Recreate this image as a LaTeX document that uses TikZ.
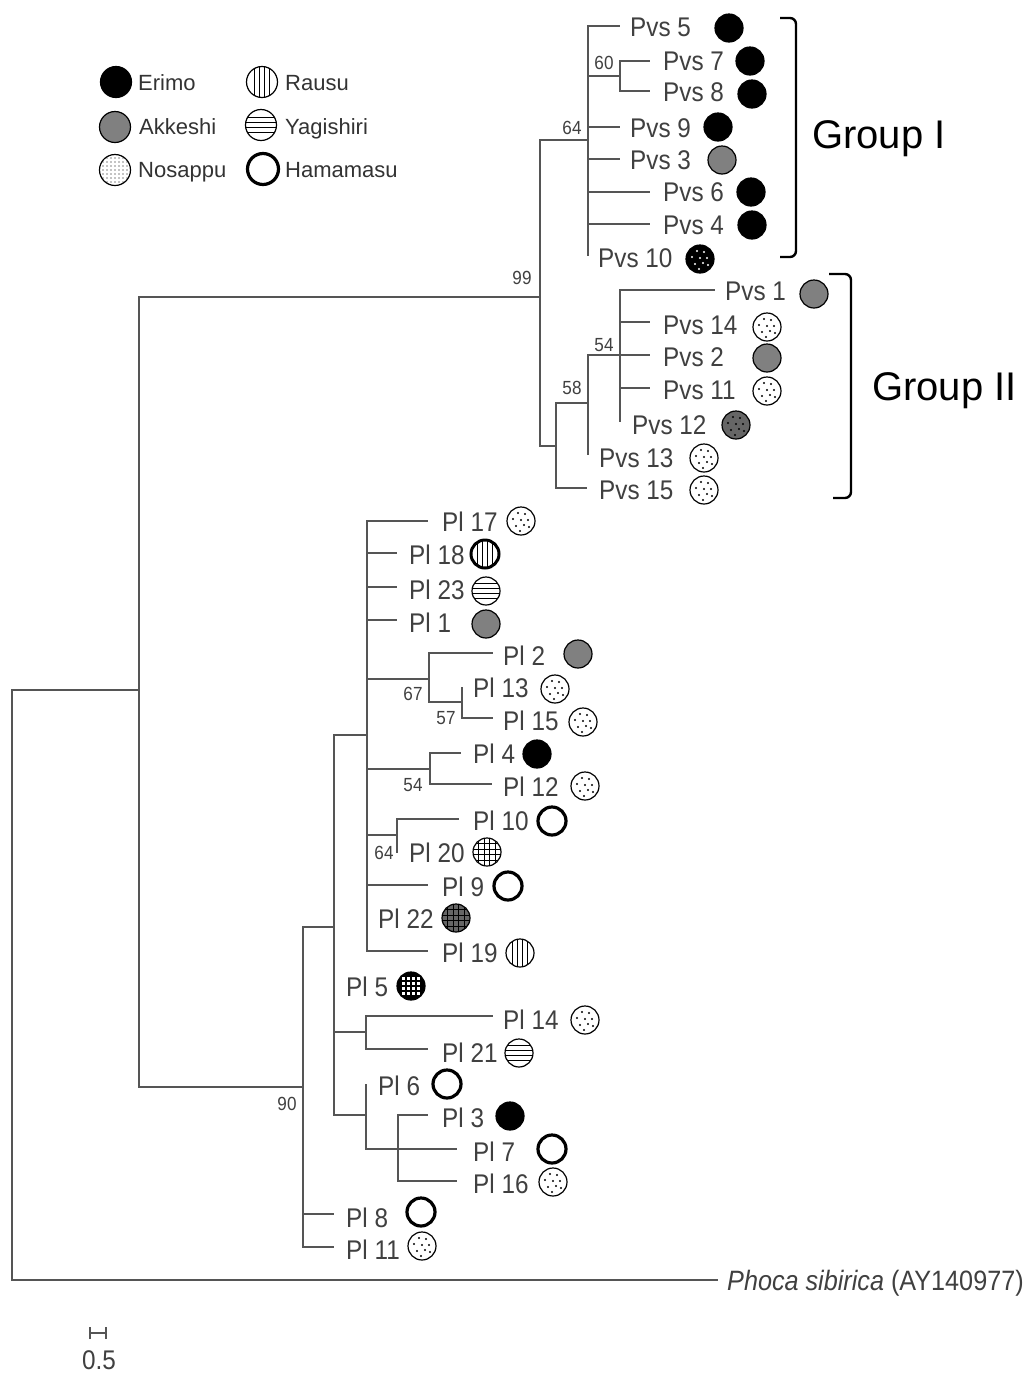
\documentclass[tikz,border=0pt]{standalone}
\usepackage{fontspec}
\setmainfont{Liberation Sans}
\newfontfamily\labf[FakeStretch=0.9]{Liberation Sans}
\definecolor{treeg}{HTML}{555555}
\definecolor{labg}{HTML}{404040}
\definecolor{akkg}{HTML}{808080}
\definecolor{dkg}{HTML}{666666}
\newcommand{\tipfont}{\labf\fontsize{27}{30}\selectfont}
\newcommand{\bsfont}{\labf\fontsize{19}{20}\selectfont}
\newcommand{\legfont}{\fontsize{22}{24}\selectfont}
\newcommand{\dotpat}[1]{\begin{scope}[shift={(path picture bounding box.center)}]\foreach \dx/\dy in {-3/-8,4/-7,-8/-2,0/-1,7/-1,-5/5,3/4,8/6,-1/10}{\fill[#1] (\dx,\dy) circle (1.1pt);}\end{scope}}
\newcommand{\densedots}{\begin{scope}[shift={(path picture bounding box.center)}]\foreach \dx in {-12,-8,...,12}{\foreach \dy in {-12,-8,...,12}{\fill[black] (\dx,\dy) circle (0.7pt);}}\end{scope}}
\newcommand{\vlines}{\begin{scope}[shift={(path picture bounding box.center)}]\foreach \dx in {-7.5,-2.5,2.5,7.5}{\draw[line width=0.9pt] (\dx,-16) -- (\dx,16);}\end{scope}}
\newcommand{\hlines}{\begin{scope}[shift={(path picture bounding box.center)}]\foreach \dy in {-7.5,-2.5,2.5,7.5}{\draw[line width=0.9pt] (-16,\dy) -- (16,\dy);}\end{scope}}
\newcommand{\gridpat}{\begin{scope}[shift={(path picture bounding box.center)}]\foreach \d in {-8.25,-2.75,2.75,8.25}{\draw[line width=0.9pt] (\d,-16) -- (\d,16); \draw[line width=0.9pt] (-16,\d) -- (16,\d);}\end{scope}}
\newcommand{\whitesq}{\begin{scope}[shift={(path picture bounding box.center)}]\foreach \dx in {-7.5,-2.5,2.5,7.5}{\foreach \dy in {-7.5,-2.5,2.5,7.5}{\fill[white] (\dx-1.7,\dy-1.7) rectangle (\dx+1.7,\dy+1.7);}}\end{scope}}
\tikzset{
  br/.style={draw=treeg, line width=2.5pt},
  leaf/.style={anchor=west, inner sep=0pt, font=\tipfont, text=labg},
  bs/.style={inner sep=0pt, font=\bsfont, text=labg},
  legtxt/.style={anchor=base west, inner sep=0pt, font=\legfont, text=black!80},
  sym/.style={circle, draw=black, line width=1.2pt, minimum size=28pt, inner sep=0pt, fill=white},
  big/.style={minimum size=31pt},
  erimo/.style={sym, fill=black},
  akk/.style={sym, fill=akkg},
  nosa/.style={sym, path picture={\dotpat{black}}},
  nosaL/.style={sym, path picture={\densedots}},
  wdots/.style={sym, fill=black, path picture={\dotpat{white}}},
  gdots/.style={sym, fill=dkg, path picture={\dotpat{black}}},
  rausu/.style={sym, path picture={\vlines}},
  yagi/.style={sym, path picture={\hlines}},
  hama/.style={sym, line width=3.2pt},
  gridw/.style={sym, path picture={\gridpat}},
  gridg/.style={sym, fill=dkg, path picture={\gridpat}},
  gridb/.style={sym, fill=black, path picture={\whitesq}},
  brk/.style={draw=black, line width=2.4pt, rounded corners=6pt},
  grp/.style={anchor=base west, inner sep=0pt, font=\fontsize{40}{44}\selectfont, text=black}
}
\begin{document}
\begin{tikzpicture}[x=1pt,y=-1pt]
\useasboundingbox[fill=white] (0,0) rectangle (1028,1374);

% ---------- legend ----------
\node[erimo,big] (lE) at (116,82) {};
\node[legtxt] (lEt) at (138,90) {Erimo};
\node[akk,big] (lA) at (115,127) {};
\node[legtxt] (lAt) at (139,134) {Akkeshi};
\node[nosaL,big] (lN) at (115,170) {};
\node[legtxt] (lNt) at (138,177) {Nosappu};
\node[rausu,big] (lR) at (262,82) {};
\node[legtxt] (lRt) at (285,90) {Rausu};
\node[yagi,big] (lY) at (261,125) {};
\node[legtxt] (lYt) at (285,134) {Yagishiri};
\node[hama,big] (lH) at (263,169) {};
\node[legtxt] (lHt) at (285,177) {Hamamasu};

% ---------- internal nodes ----------
\coordinate (R) at (12,985);
\coordinate (A) at (139,690);
\coordinate (N99) at (540,297);
\coordinate (N64) at (588,140);
\coordinate (N60) at (620,76);
\coordinate (N58p) at (556,446);
\coordinate (N58) at (588,403);
\coordinate (N54) at (620,355);
\coordinate (N90) at (303,1087);
\coordinate (NB) at (334,927);
\coordinate (NC) at (367,735);
\coordinate (N67) at (429,679);
\coordinate (N57) at (462,702);
\coordinate (N54b) at (430,769);
\coordinate (N64b) at (397,835);
\coordinate (ND) at (366,1032);
\coordinate (NE) at (366,1115);
\coordinate (NF) at (398,1149);

% ---------- tips ----------
\coordinate (O) at (718,1280);
\coordinate (t5) at (620,26);
\coordinate (t7) at (650,61);
\coordinate (t8) at (650,91);
\coordinate (t9) at (620,127);
\coordinate (t3) at (620,159);
\coordinate (t6) at (650,192);
\coordinate (t4) at (650,224);
\coordinate (t10) at (588,256);
\coordinate (t1) at (715,290);
\coordinate (t14) at (650,322);
\coordinate (t2) at (650,355);
\coordinate (t11) at (650,388);
\coordinate (t12) at (620,422);
\coordinate (t13) at (588,455);
\coordinate (t15) at (587,488);
\coordinate (p17) at (428,521);
\coordinate (p18) at (397,553);
\coordinate (p23) at (397,587);
\coordinate (p1) at (397,620);
\coordinate (p2) at (493,653);
\coordinate (p13) at (462,687);
\coordinate (p15) at (493,718);
\coordinate (p4) at (461,753);
\coordinate (p12) at (492,784);
\coordinate (p10) at (459,819);
\coordinate (p20) at (397,853);
\coordinate (p9) at (428,885);
\coordinate (p22) at (367,917);
\coordinate (p19) at (428,951);
\coordinate (p5) at (334,987);
\coordinate (p14) at (493,1016);
\coordinate (p21) at (428,1049);
\coordinate (p6) at (366,1084);
\coordinate (p3) at (428,1115);
\coordinate (p7) at (457,1149);
\coordinate (p16) at (457,1181);
\coordinate (p8) at (334,1214);
\coordinate (p11) at (334,1247);

% ---------- branches ----------
\draw[br] (R) |- (A);  \draw[br] (R) |- (O);
\draw[br] (A) |- (N99); \draw[br] (A) |- (N90);
\draw[br] (N99) |- (N64); \draw[br] (N99) |- (N58p);
\foreach \c in {t5,N60,t9,t3,t6,t4,t10} \draw[br] (N64) |- (\c);
\foreach \c in {t7,t8} \draw[br] (N60) |- (\c);
\foreach \c in {N58,t15} \draw[br] (N58p) |- (\c);
\foreach \c in {N54,t13} \draw[br] (N58) |- (\c);
\foreach \c in {t1,t14,t2,t11,t12} \draw[br] (N54) |- (\c);
\foreach \c in {NB,p8,p11} \draw[br] (N90) |- (\c);
\foreach \c in {NC,p5,ND,NE} \draw[br] (NB) |- (\c);
\foreach \c in {p17,p18,p23,p1,N67,N54b,N64b,p9,p22,p19} \draw[br] (NC) |- (\c);
\foreach \c in {p2,N57} \draw[br] (N67) |- (\c);
\foreach \c in {p13,p15} \draw[br] (N57) |- (\c);
\foreach \c in {p4,p12} \draw[br] (N54b) |- (\c);
\foreach \c in {p10,p20} \draw[br] (N64b) |- (\c);
\foreach \c in {p14,p21} \draw[br] (ND) |- (\c);
\foreach \c in {p6,NF} \draw[br] (NE) |- (\c);
\foreach \c in {p3,p7,p16} \draw[br] (NF) |- (\c);

% ---------- bootstrap values ----------
\node[bs] (b60) at (604,63) {60};
\node[bs] (b64) at (572,128) {64};
\node[bs] (b99) at (522,278) {99};
\node[bs] (b58) at (572,388) {58};
\node[bs] (b54) at (604,345) {54};
\node[bs] (b67) at (413,694) {67};
\node[bs] (b57) at (446,718) {57};
\node[bs] (b54b) at (413,785) {54};
\node[bs] (b64b) at (384,853) {64};
\node[bs] (b90) at (287,1104) {90};

% ---------- tip labels and symbols ----------
\node[leaf] (L5) at (630,27) {Pvs 5};   \node[erimo] (c5) at (729,28) {};
\node[leaf] (L7) at (663,61) {Pvs 7};   \node[erimo] (c7) at (750,61) {};
\node[leaf] (L8) at (663,92) {Pvs 8};   \node[erimo] (c8) at (752,94) {};
\node[leaf] (L9) at (630,128) {Pvs 9};  \node[erimo] (c9) at (718,127) {};
\node[leaf] (L3) at (630,160) {Pvs 3};  \node[akk] (c3) at (722,160) {};
\node[leaf] (L6) at (663,192) {Pvs 6};  \node[erimo] (c6) at (751,192) {};
\node[leaf] (L4) at (663,225) {Pvs 4};  \node[erimo] (c4) at (752,225) {};
\node[leaf] (L10) at (598,258) {Pvs 10}; \node[wdots] (c10) at (700,259) {};
\node[leaf] (L1) at (725,291) {Pvs 1};  \node[akk] (c1) at (814,294) {};
\node[leaf] (L14) at (663,325) {Pvs 14}; \node[nosa] (c14) at (767,327) {};
\node[leaf] (L2) at (663,357) {Pvs 2};  \node[akk] (c2) at (767,358) {};
\node[leaf] (L11) at (663,390) {Pvs 11}; \node[nosa] (c11) at (767,391) {};
\node[leaf] (L12) at (632,425) {Pvs 12}; \node[gdots] (c12) at (736,425) {};
\node[leaf] (L13) at (599,458) {Pvs 13}; \node[nosa] (c13) at (704,458) {};
\node[leaf] (L15) at (599,490) {Pvs 15}; \node[nosa] (c15) at (704,490) {};

\node[leaf] (P17) at (442,522) {Pl 17}; \node[nosa] (d17) at (521,521) {};
\node[leaf] (P18) at (409,555) {Pl 18}; \node[rausu,line width=3pt] (d18) at (485,554) {};
\node[leaf] (P23) at (409,590) {Pl 23}; \node[yagi] (d23) at (486,591) {};
\node[leaf] (P1) at (409,623) {Pl 1};   \node[akk] (d1) at (486,624) {};
\node[leaf] (P2) at (503,656) {Pl 2};   \node[akk] (d2) at (578,654) {};
\node[leaf] (P13) at (473,688) {Pl 13}; \node[nosa] (d13) at (555,689) {};
\node[leaf] (P15) at (503,721) {Pl 15}; \node[nosa] (d15) at (583,722) {};
\node[leaf] (P4) at (473,754) {Pl 4};   \node[erimo] (d4) at (537,754) {};
\node[leaf] (P12) at (503,787) {Pl 12}; \node[nosa] (d12) at (585,786) {};
\node[leaf] (P10) at (473,821) {Pl 10}; \node[hama] (d10) at (552,821) {};
\node[leaf] (P20) at (409,853) {Pl 20}; \node[gridw] (d20) at (487,852) {};
\node[leaf] (P9) at (442,887) {Pl 9};   \node[hama] (d9) at (508,886) {};
\node[leaf] (P22) at (378,919) {Pl 22}; \node[gridg] (d22) at (456,918) {};
\node[leaf] (P19) at (442,953) {Pl 19}; \node[rausu] (d19) at (520,953) {};
\node[leaf] (P5) at (346,987) {Pl 5};   \node[gridb] (d5) at (411,986) {};
\node[leaf] (P14) at (503,1020) {Pl 14}; \node[nosa] (d14) at (585,1020) {};
\node[leaf] (P21) at (442,1053) {Pl 21}; \node[yagi] (d21) at (519,1053) {};
\node[leaf] (P6) at (378,1086) {Pl 6};  \node[hama] (d6) at (447,1084) {};
\node[leaf] (P3) at (442,1118) {Pl 3};  \node[erimo] (d3) at (510,1116) {};
\node[leaf] (P7) at (473,1152) {Pl 7};  \node[hama] (d7) at (552,1149) {};
\node[leaf] (P16) at (473,1184) {Pl 16}; \node[nosa] (d16) at (553,1182) {};
\node[leaf] (P8) at (346,1218) {Pl 8};  \node[hama] (d8) at (421,1212) {};
\node[leaf] (P11) at (346,1250) {Pl 11}; \node[nosa] (d11) at (422,1246) {};

\node[leaf, font=\labf\fontsize{28}{30}\selectfont] (LO) at (727,1283) {\itshape Phoca sibirica\upshape{} (AY140977)};

% ---------- group brackets ----------
\coordinate (g1a) at (780,18);
\coordinate (g1m) at (796,137);
\coordinate (g1b) at (780,257);
\draw[brk] (g1a) -| (g1m) |- (g1b);
\node[grp] (G1) at (812,148) {Group I};
\coordinate (g2a) at (829,274);
\coordinate (g2m) at (851,386);
\coordinate (g2b) at (833,498);
\draw[brk] (g2a) -| (g2m) |- (g2b);
\node[grp] (G2) at (872,400) {Group II};

% ---------- scale bar ----------
\coordinate (s1) at (90,1333);
\coordinate (s2) at (106,1333);
\draw[draw=treeg, line width=1.8pt] (s1) -- (s2);
\draw[draw=treeg, line width=1.8pt] ([yshift=-6pt]s1) -- ([yshift=6pt]s1);
\draw[draw=treeg, line width=1.8pt] ([yshift=-6pt]s2) -- ([yshift=6pt]s2);
\node[leaf, anchor=center] (sl) at (99,1360) {0.5};
\end{tikzpicture}
\end{document}
